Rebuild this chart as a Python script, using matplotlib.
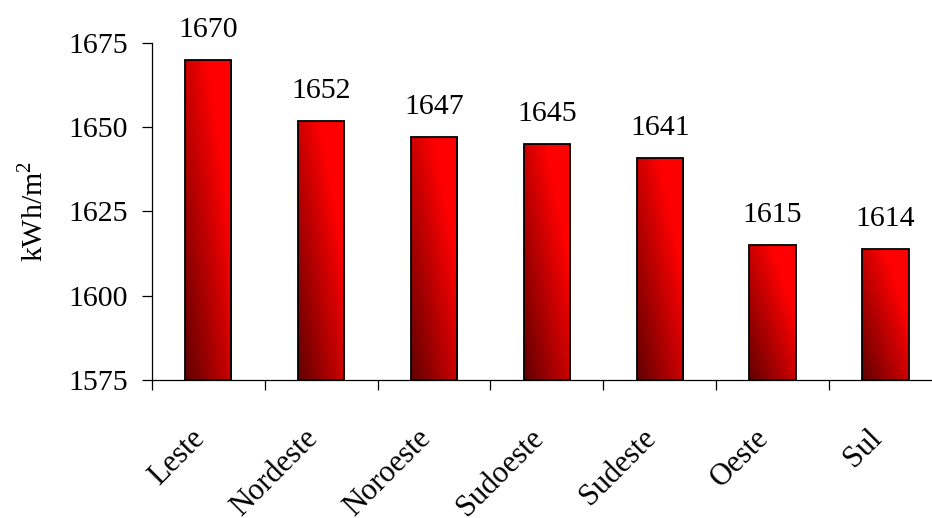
import numpy as np
import matplotlib
matplotlib.use("Agg")
import matplotlib.pyplot as plt
from matplotlib.transforms import ScaledTranslation

# --- data ---
categories = ["Leste", "Nordeste", "Noroeste", "Sudoeste", "Sudeste", "Oeste", "Sul"]
values = [1670, 1652, 1647, 1645, 1641, 1615, 1614]
y_ticks = [1575, 1600, 1625, 1650, 1675]

plt.rcParams["font.family"] = ["Liberation Serif", "DejaVu Serif"]
plt.rcParams["mathtext.fontset"] = "custom"
plt.rcParams["mathtext.rm"] = "Liberation Serif"
plt.rcParams["font.size"] = 21.5

fig = plt.figure(figsize=(9.32, 5.18), dpi=100)
ax = fig.add_axes([0.163, 0.2664, 0.8476, 0.6506])

ymin, ymax = 1575, 1675
x = np.arange(len(categories))
bar_w = 0.41

# diagonal red gradient: dark bottom-left -> bright top-right
u = np.linspace(0, 1, 64)
v = np.linspace(0, 1, 128)
U, V = np.meshgrid(u, v)
R = np.clip(0.38 + 0.42 * U + 0.42 * V, 0, 1)
grad = np.dstack([R, np.zeros_like(R), np.zeros_like(R)])

bars = ax.bar(x, [val - ymin for val in values], bottom=ymin, width=bar_w,
              facecolor="none", edgecolor="black", linewidth=1.3, zorder=3)
for b, val in zip(bars, values):
    x0 = b.get_x()
    im = ax.imshow(grad, extent=[x0, x0 + bar_w, ymin, val], origin="lower",
                   aspect="auto", zorder=2, interpolation="bilinear")
    im.set_clip_path(b)
    ax.annotate(str(val), (b.get_x() + bar_w / 2, val), xytext=(0, 16.5),
                textcoords="offset points", ha="center", va="baseline",
                annotation_clip=False)

ax.set_xlim(-0.5, len(categories) - 0.5)
ax.set_ylim(ymin, ymax)
ax.set_yticks(y_ticks)

# ticks on category boundaries, labels at centers
ax.set_xticks(np.arange(len(categories) + 1) - 0.5)
ax.set_xticklabels([])
ax.set_xticks(x, minor=True)
ax.set_xticklabels(categories, minor=True, rotation=45, ha="right",
                   va="center", rotation_mode="anchor", fontsize=22)
ax.tick_params(axis="x", which="minor", length=0, pad=36)
ax.tick_params(axis="x", which="major", length=7, width=0.9, direction="out")
ax.tick_params(axis="y", length=7, width=0.9, direction="out", pad=10)

# nudge rotated labels down-left along their direction
shift = ScaledTranslation(-0.08, -0.04, fig.dpi_scale_trans)
for lbl in ax.get_xticklabels(minor=True):
    lbl.set_transform(lbl.get_transform() + shift)

for s in ["top", "right"]:
    ax.spines[s].set_visible(False)
for s in ["left", "bottom"]:
    ax.spines[s].set_linewidth(0.9)

ax.set_ylabel("kWh/m$^{2}$", labelpad=14)

fig.savefig("out.png", dpi=100)
